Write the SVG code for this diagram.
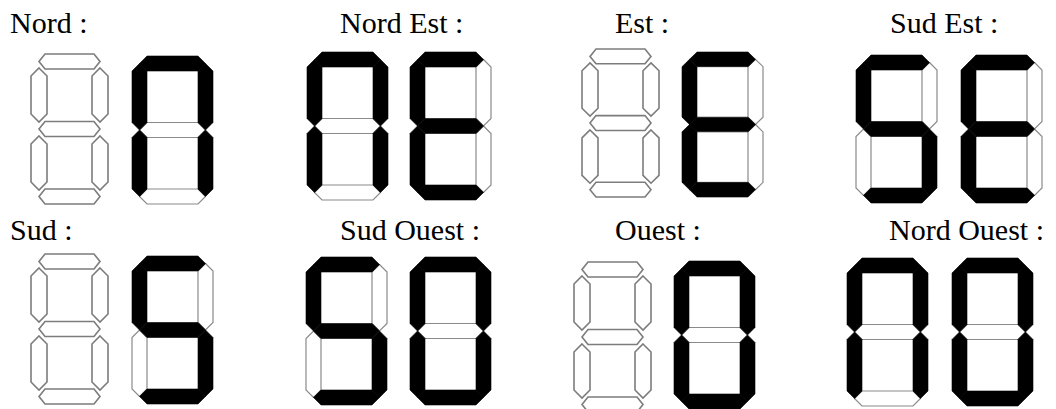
<svg xmlns="http://www.w3.org/2000/svg" xmlns:xlink="http://www.w3.org/1999/xlink" width="1056" height="409" viewBox="0 0 1056 409">
  <style>
    text { font-family: "Liberation Serif", "Times New Roman", serif; font-size: 30px; fill: #000; }
    .on { fill: #000; stroke: #000; stroke-width: 0.6; stroke-linejoin: miter; }
    .off { fill: #fff; stroke: #8a8a8a; stroke-width: 1.2; stroke-linejoin: miter; }
    .ghost { fill: #fff; stroke: #7c7c7c; stroke-width: 1.6; stroke-linejoin: miter; }
  </style>
  <defs>
    <!-- solid seven-segment cell: 81 x 148, segment thickness 15 -->
    <path id="fa" d="M7.5,7.5 L15,0 L66,0 L73.5,7.5 L66,15 L15,15 Z"/>
    <path id="fb" d="M73.5,7.5 L81,15 L81,66.5 L73.5,74 L66,66.5 L66,15 Z"/>
    <path id="fc" d="M73.5,74 L81,81.5 L81,133 L73.5,140.5 L66,133 L66,81.5 Z"/>
    <path id="fd" d="M7.5,140.5 L15,133 L66,133 L73.5,140.5 L66,148 L15,148 Z"/>
    <path id="fe" d="M7.5,74 L15,81.5 L15,133 L7.5,140.5 L0,133 L0,81.5 Z"/>
    <path id="ff" d="M7.5,7.5 L15,15 L15,66.5 L7.5,74 L0,66.5 L0,15 Z"/>
    <path id="fg" d="M7.5,74 L15,66.5 L66,66.5 L73.5,74 L66,81.5 L15,81.5 Z"/>

    <!-- outlined seven-segment cell with separated segments: 77 x 150 -->
    <g id="ghost8">
      <path d="M8,7.5 L14,0 L63,0 L69,7.5 L63,15 L14,15 Z"/>
      <path d="M8,75 L14,67.5 L63,67.5 L69,75 L63,82.5 L14,82.5 Z"/>
      <path d="M8,142.5 L14,135 L63,135 L69,142.5 L63,150 L14,150 Z"/>
      <path d="M8,14 L16,22 L16,60 L8,68 L0,60 L0,22 Z"/>
      <path d="M69,14 L77,22 L77,60 L69,68 L61,60 L61,22 Z"/>
      <path d="M8,82 L16,90 L16,128 L8,136 L0,128 L0,90 Z"/>
      <path d="M69,82 L77,90 L77,128 L69,136 L61,128 L61,90 Z"/>
    </g>

    <!-- letter "n": a b c e f -->
    <g id="dN">
      <use href="#fd" class="off"/><use href="#fg" class="off"/>
      <use href="#fa" class="on"/><use href="#fb" class="on"/><use href="#fc" class="on"/>
      <use href="#fe" class="on"/><use href="#ff" class="on"/>
    </g>
    <!-- letter "E": a d e f g -->
    <g id="dE">
      <use href="#fb" class="off"/><use href="#fc" class="off"/>
      <use href="#fa" class="on"/><use href="#fd" class="on"/><use href="#fe" class="on"/>
      <use href="#ff" class="on"/><use href="#fg" class="on"/>
    </g>
    <!-- letter "S": a c d f g -->
    <g id="dS">
      <use href="#fb" class="off"/><use href="#fe" class="off"/>
      <use href="#fa" class="on"/><use href="#fc" class="on"/><use href="#fd" class="on"/>
      <use href="#ff" class="on"/><use href="#fg" class="on"/>
    </g>
    <!-- letter "O": a b c d e f -->
    <g id="dO">
      <use href="#fg" class="off"/>
      <use href="#fa" class="on"/><use href="#fb" class="on"/><use href="#fc" class="on"/>
      <use href="#fd" class="on"/><use href="#fe" class="on"/><use href="#ff" class="on"/>
    </g>
  </defs>

  <rect width="1056" height="409" fill="#fff"/>

  <!-- top row -->
  <g id="nord">
    <text x="10" y="33">Nord :</text>
    <use href="#ghost8" class="ghost" transform="translate(31,54)"/>
    <use href="#dN" transform="translate(132,56)"/>
  </g>
  <g id="nord-est">
    <text x="340" y="33">Nord Est :</text>
    <use href="#dN" transform="translate(307,52)"/>
    <use href="#dE" transform="translate(410,52)"/>
  </g>
  <g id="est">
    <text x="615" y="33">Est :</text>
    <use href="#ghost8" class="ghost" transform="translate(582,49) scale(1,0.987)"/>
    <use href="#dE" transform="translate(682,52) scale(1,0.98)"/>
  </g>
  <g id="sud-est">
    <text x="890" y="33">Sud Est :</text>
    <use href="#dS" transform="translate(856,55)"/>
    <use href="#dE" transform="translate(961,55)"/>
  </g>

  <!-- bottom row -->
  <g id="sud">
    <text x="10" y="240">Sud :</text>
    <use href="#ghost8" class="ghost" transform="translate(31,254)"/>
    <use href="#dS" transform="translate(132,256)"/>
  </g>
  <g id="sud-ouest">
    <text x="340" y="240">Sud Ouest :</text>
    <use href="#dS" transform="translate(306,257)"/>
    <use href="#dO" transform="translate(410,257)"/>
  </g>
  <g id="ouest">
    <text x="615" y="240">Ouest :</text>
    <use href="#ghost8" class="ghost" transform="translate(574,262)"/>
    <use href="#dO" transform="translate(674,261)"/>
  </g>
  <g id="nord-ouest">
    <text x="889" y="240">Nord Ouest :</text>
    <use href="#dN" transform="translate(847,258)"/>
    <use href="#dO" transform="translate(952,258)"/>
  </g>
</svg>
